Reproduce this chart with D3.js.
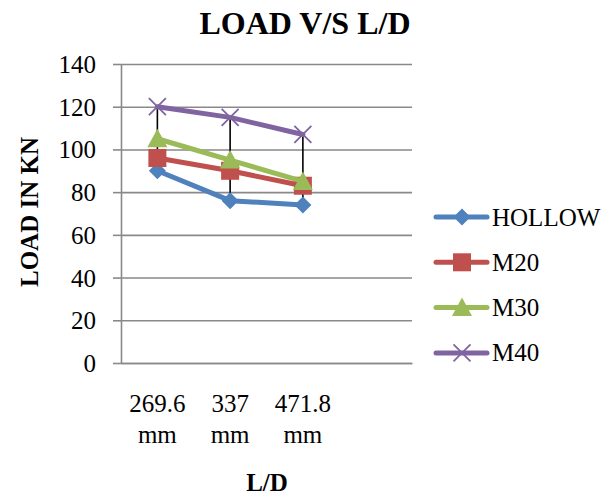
<!DOCTYPE html>
<html><head><meta charset="utf-8">
<script src="https://cdn.jsdelivr.net/npm/d3@7"></script>
<style>
html,body{margin:0;padding:0;background:#fff;}
svg{display:block;}
svg text{font-family:"Liberation Serif","Times New Roman",serif;}
</style></head>
<body>
<svg id="chart" width="608" height="496"></svg>
<script>
const categories = ["269.6 mm", "337 mm", "471.8 mm", ""];
const seriesNames = ["HOLLOW", "M20", "M30", "M40"];
const hollow = [90, 76, 74];
const m20 = [96, 90, 83];
const m30 = [105, 95, 85];
const m40 = [120, 115, 107];
const yTicks = [0, 20, 40, 60, 80, 100, 120, 140];
const colors = ["#4F81BD", "#C0504D", "#9BBB59", "#8064A2"];
const markers = ["diamond", "square", "triangle", "x"];
const title = "LOAD V/S L/D";
const xTitle = "L/D";
const yTitle = "LOAD IN KN";

const FONT = "Liberation Serif";
const series = [hollow, m20, m30, m40].map((v, i) => ({name: seriesNames[i], values: v, color: colors[i], marker: markers[i]}));

const svg = d3.select("#chart");
const L = 121, R = 412, T = 64, B = 363;
const x = d3.scaleBand().domain(categories).range([L, R]).padding(0);
const y = d3.scaleLinear().domain([0, 140]).range([B, T]);
const cx = c => x(c) + x.bandwidth() / 2;

// gridlines
const grid = svg.append("g").attr("transform", `translate(${L},0)`)
  .call(d3.axisLeft(y).tickValues(yTicks).tickSize(-(R - L)).tickFormat(""));
grid.select(".domain").remove();
grid.selectAll("line").attr("stroke", "#898989").attr("stroke-width", 1.6);

// y axis
const ya = svg.append("g").attr("transform", `translate(${L},0)`)
  .call(d3.axisLeft(y).tickValues(yTicks).tickSize(8).tickSizeOuter(0).tickPadding(17));
ya.attr("font-family", null);
ya.select(".domain").attr("stroke", "#898989").attr("stroke-width", 1.6);
ya.selectAll("line").attr("stroke", "#898989").attr("stroke-width", 1.6);
ya.selectAll("text").attr("font-size", 25).style("font-family", FONT).attr("fill", "#000").attr("dy", "0.34em");

// x axis
const xa = svg.append("g").attr("transform", `translate(0,${B})`)
  .call(d3.axisBottom(x).tickSize(0).tickSizeOuter(0).tickFormat(""));
xa.attr("font-family", null);
xa.select(".domain").attr("stroke", "#898989").attr("stroke-width", 1.6);
xa.selectAll(".tick").each(function(d) {
  const parts = d.split(" ");
  const t = d3.select(this).append("text").attr("fill", "#000").attr("font-size", 25)
    .style("font-family", FONT).attr("text-anchor", "middle");
  parts.forEach((p, i) => t.append("tspan").attr("x", 0).attr("y", 49 + i * 31).text(p));
});

// high-low lines
const nPts = hollow.length;
const hl = d3.range(nPts).map(i => {
  const vals = series.map(s => s.values[i]);
  return {c: categories[i], hi: d3.max(vals), lo: d3.min(vals)};
});
svg.append("g").selectAll("line").data(hl).join("line")
  .attr("x1", d => cx(d.c)).attr("x2", d => cx(d.c))
  .attr("y1", d => y(d.hi)).attr("y2", d => y(d.lo))
  .attr("stroke", "#000").attr("stroke-width", 1.6);

function drawMarker(g, type, color, px, py) {
  if (type === "diamond") {
    const r = 8.5;
    g.append("path").attr("d", `M${px},${py - r}L${px + r},${py}L${px},${py + r}L${px - r},${py}Z`).attr("fill", color);
  } else if (type === "square") {
    const r = 9;
    g.append("rect").attr("x", px - r).attr("y", py - r).attr("width", 2 * r).attr("height", 2 * r).attr("fill", color);
  } else if (type === "triangle") {
    const r = 10;
    g.append("path").attr("d", `M${px},${py - r}L${px + r},${py + r * 0.85}L${px - r},${py + r * 0.85}Z`).attr("fill", color);
  } else {
    const r = 8.5;
    g.append("path").attr("d", `M${px - r},${py - r}L${px + r},${py + r}M${px - r},${py + r}L${px + r},${py - r}`)
      .attr("stroke", color).attr("stroke-width", 1.8).attr("fill", "none");
  }
}

const line = d3.line().x((d, i) => cx(categories[i])).y(d => y(d));
series.forEach(s => {
  const g = svg.append("g");
  g.append("path").attr("d", line(s.values)).attr("fill", "none").attr("stroke", s.color)
    .attr("stroke-width", 5).attr("stroke-linejoin", "round").attr("stroke-linecap", "round");
  s.values.forEach((v, i) => drawMarker(g, s.marker, s.color, cx(categories[i]), y(v)));
});

// legend
const lg = svg.append("g");
series.forEach((s, i) => {
  const ly = 217 + i * 45.3;
  const g = lg.append("g");
  g.append("line").attr("x1", 436).attr("x2", 487).attr("y1", ly).attr("y2", ly)
    .attr("stroke", s.color).attr("stroke-width", 5).attr("stroke-linecap", "round");
  drawMarker(g, s.marker, s.color, 462, ly);
  g.append("text").attr("x", 492).attr("y", ly).attr("dy", "0.34em").attr("font-size", 25)
    .style("font-family", FONT).text(s.name);
});

// titles
svg.append("text").attr("x", 305).attr("y", 34).attr("text-anchor", "middle").style("font-family", FONT)
  .attr("font-size", 32).attr("font-weight", "bold").text(title);
svg.append("text").attr("x", 267).attr("y", 491).attr("text-anchor", "middle").style("font-family", FONT)
  .attr("font-size", 25).attr("font-weight", "bold").text(xTitle);
svg.append("text").attr("transform", "translate(38,212) rotate(-90)").attr("text-anchor", "middle").style("font-family", FONT)
  .attr("font-size", 25).attr("font-weight", "bold").text(yTitle);
</script>
</body></html>
